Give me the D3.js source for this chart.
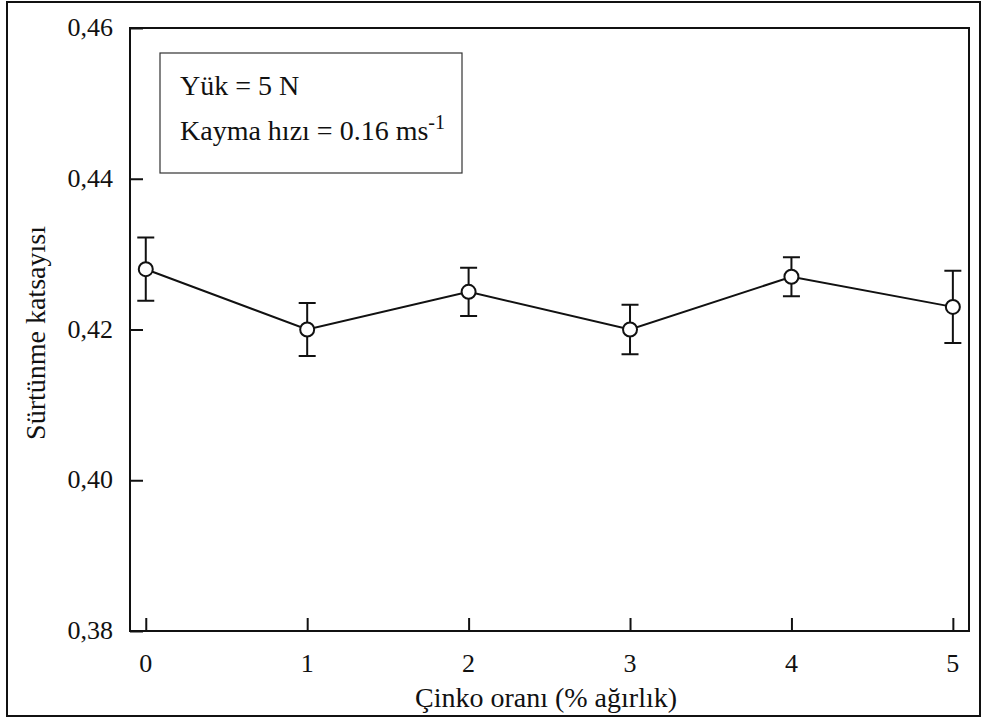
<!DOCTYPE html>
<html>
<head>
<meta charset="utf-8">
<script src="https://cdnjs.cloudflare.com/ajax/libs/d3/7.8.5/d3.min.js"></script>
<style>
  body { margin: 0; background: #fff; }
  svg text { font-family: "Liberation Serif", "Times New Roman", Tinos, serif; fill: #111; }
</style>
</head>
<body>
<div id="chart-area"></div>
<script>
// zinc ratio vs friction coefficient
var zinc = [0, 1, 2, 3, 4, 5];
var friction = [0.428, 0.420, 0.425, 0.420, 0.427, 0.423];
var errUp = [0.0042, 0.0035, 0.0032, 0.0033, 0.0026, 0.0048];
var errDown = [0.0042, 0.0035, 0.0032, 0.0033, 0.0026, 0.0048];
var yTicks = [0.38, 0.40, 0.42, 0.44, 0.46];
var xTicks = [0, 1, 2, 3, 4, 5];

var width = 982, height = 720;
var m = {left: 130, right: 969, top: 28, bottom: 631};

var svg = d3.select("#chart-area").append("svg")
    .attr("width", width)
    .attr("height", height);

// outer frame
svg.append("rect")
    .attr("x", 7).attr("y", 2)
    .attr("width", 973).attr("height", 714)
    .attr("fill", "none")
    .attr("stroke", "#111")
    .attr("stroke-width", 2);

var x = d3.scaleLinear().domain([-0.0977, 5.1]).range([m.left, m.right]);
var y = d3.scaleLinear().domain([0.38, 0.46]).range([m.bottom, m.top]);

// plot frame
svg.append("rect")
    .attr("x", m.left).attr("y", m.top)
    .attr("width", m.right - m.left).attr("height", m.bottom - m.top)
    .attr("fill", "none")
    .attr("stroke", "#111")
    .attr("stroke-width", 2);

var fmt = function(d){ return d3.format(".2f")(d).replace(".", ","); };

var yAxis = svg.append("g")
    .attr("transform", "translate(" + m.left + ",0)")
    .call(d3.axisRight(y).tickValues(yTicks).tickSize(13).tickFormat(""));
yAxis.select(".domain").remove();
yAxis.selectAll("line").attr("stroke", "#111").attr("stroke-width", 2);

svg.selectAll(".ylab")
    .data(yTicks)
    .enter()
    .append("text")
    .attr("x", 113)
    .attr("y", function(d){ return y(d) + 8; })
    .attr("text-anchor", "end")
    .attr("font-size", 26)
    .text(fmt);

var xAxis = svg.append("g")
    .attr("transform", "translate(0," + m.bottom + ")")
    .call(d3.axisTop(x).tickValues(xTicks).tickSize(13).tickFormat(""));
xAxis.select(".domain").remove();
xAxis.selectAll("line").attr("stroke", "#111").attr("stroke-width", 2);

svg.selectAll(".xlab")
    .data(xTicks)
    .enter()
    .append("text")
    .attr("x", function(d){ return x(d); })
    .attr("y", 672)
    .attr("text-anchor", "middle")
    .attr("font-size", 26)
    .text(function(d){ return d; });

// axis titles
svg.append("text")
    .attr("x", 546).attr("y", 707)
    .attr("text-anchor", "middle")
    .attr("font-size", 28)
    .text("Çinko oranı (% ağırlık)");

svg.append("text")
    .attr("transform", "translate(45,333) rotate(-90)")
    .attr("text-anchor", "middle")
    .attr("font-size", 28)
    .text("Sürtünme katsayısı");

// legend box
svg.append("rect")
    .attr("x", 160).attr("y", 53)
    .attr("width", 302).attr("height", 120)
    .attr("fill", "none")
    .attr("stroke", "#333")
    .attr("stroke-width", 1.2);

svg.append("text")
    .attr("x", 180).attr("y", 95)
    .attr("font-size", 28)
    .text("Yük = 5 N");

var t2 = svg.append("text")
    .attr("x", 180).attr("y", 140)
    .attr("font-size", 28)
    .text("Kayma hızı = 0.16 ms");
t2.append("tspan")
    .attr("dy", -11)
    .attr("font-size", 20)
    .text("-1");

// error bars
var idx = d3.range(zinc.length);
svg.selectAll(".err")
    .data(idx)
    .enter()
    .append("path")
    .attr("fill", "none")
    .attr("stroke", "#111")
    .attr("stroke-width", 2)
    .attr("d", function(i){
        var cx = x(zinc[i]);
        var y1 = y(friction[i] + errUp[i]);
        var y2 = y(friction[i] - errDown[i]);
        return "M" + (cx - 8.5) + "," + y1 + "H" + (cx + 8.5) +
               "M" + cx + "," + y1 + "V" + y2 +
               "M" + (cx - 8.5) + "," + y2 + "H" + (cx + 8.5);
    });

var line = d3.line()
    .x(function(i){ return x(zinc[i]); })
    .y(function(i){ return y(friction[i]); });

svg.append("path")
    .datum(idx)
    .attr("fill", "none")
    .attr("stroke", "#111")
    .attr("stroke-width", 2)
    .attr("d", line);

svg.selectAll("circle")
    .data(idx)
    .enter()
    .append("circle")
    .attr("cx", function(i){ return x(zinc[i]); })
    .attr("cy", function(i){ return y(friction[i]); })
    .attr("r", 7)
    .attr("fill", "#fff")
    .attr("stroke", "#111")
    .attr("stroke-width", 2);
</script>
</body>
</html>
